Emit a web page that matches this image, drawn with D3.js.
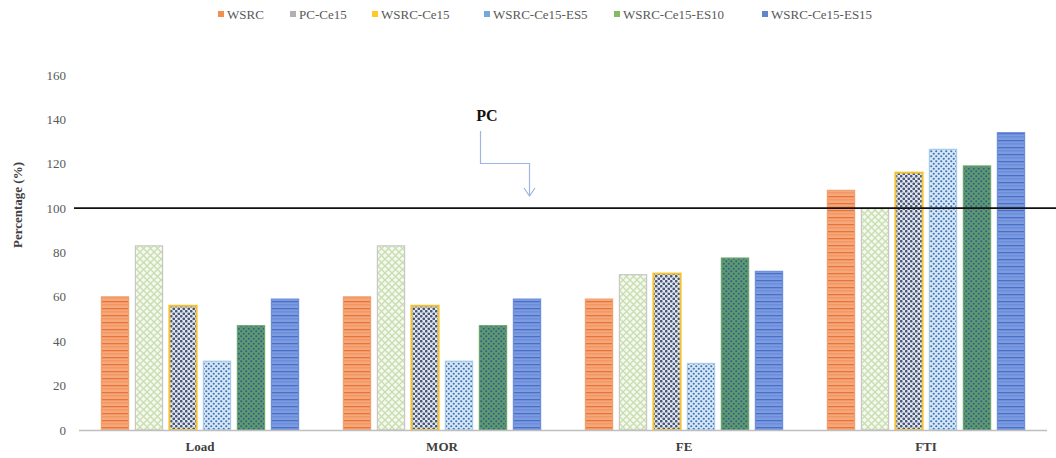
<!DOCTYPE html>
<html><head><meta charset="utf-8">
<script src="https://cdn.jsdelivr.net/npm/d3@7"></script>
<style>body{margin:0;background:#fff}svg{display:block}</style>
</head><body>
<svg id="c" width="1056" height="458"></svg>
<script>
const categories = ["Load","MOR","FE","FTI"];
const seriesNames = ["WSRC","PC-Ce15","WSRC-Ce15","WSRC-Ce15-ES5","WSRC-Ce15-ES10","WSRC-Ce15-ES15"];
const WSRC = [60, 60, 59, 108];
const PC_Ce15 = [83, 83, 70, 100];
const WSRC_Ce15 = [56, 56, 70.5, 116];
const WSRC_Ce15_ES5 = [31, 31, 30, 126.5];
const WSRC_Ce15_ES10 = [47, 47, 77.5, 119];
const WSRC_Ce15_ES15 = [59, 59, 71.5, 134];
const yTicks = [0,20,40,60,80,100,120,140,160];
const refValue = 100;
const seriesValues = [WSRC, PC_Ce15, WSRC_Ce15, WSRC_Ce15_ES5, WSRC_Ce15_ES10, WSRC_Ce15_ES15];

const svg = d3.select("#c");
const defs = svg.append("defs");
const font = "'Liberation Serif','Times New Roman',serif";

function stripes(id, bg, line) {
  const p = defs.append("pattern").attr("id", id).attr("patternUnits","userSpaceOnUse").attr("width",8).attr("height",7);
  p.append("rect").attr("width",8).attr("height",7).attr("fill",bg);
  p.append("rect").attr("y",0).attr("width",8).attr("height",1.3).attr("fill",line);
  p.append("rect").attr("y",3.5).attr("width",8).attr("height",0.8).attr("fill",line).attr("opacity",0.6);
}
stripes("p0", "#F7A87A", "#E8743A");
stripes("p5", "#7C9BE0", "#4A6FC8");
{
  const p = defs.append("pattern").attr("id","p1").attr("patternUnits","userSpaceOnUse").attr("width",7).attr("height",7);
  p.append("rect").attr("width",7).attr("height",7).attr("fill","#F4F9EE");
  p.append("path").attr("d","M0,0L7,7M7,0L0,7").attr("stroke","#C9DDB0").attr("stroke-width",1.3);
}
function dots(id, bg, dot, r) {
  const p = defs.append("pattern").attr("id",id).attr("patternUnits","userSpaceOnUse").attr("width",5).attr("height",5);
  p.append("rect").attr("width",5).attr("height",5).attr("fill",bg);
  p.append("circle").attr("cx",1.25).attr("cy",1.25).attr("r",r).attr("fill",dot);
  p.append("circle").attr("cx",3.75).attr("cy",3.75).attr("r",r).attr("fill",dot);
}
dots("p2", "#E4E8EE", "#46577A", 1.35);
dots("p3", "#D6E7F7", "#3F74B4", 1.1);
dots("p4", "#5E9A6E", "#2F5F8C", 1.05);

const strokes = ["#F0A070","#C8C8C8","#F2C233","#A8CBEA","#6EA46E","#6D8FDA"];
const legendColors = ["#ED7D31","#A5A5A5","#FFC000","#5B9BD5","#70AD47","#4472C4"];

const x0 = d3.scaleBand().domain(categories).range([79, 1047]).paddingInner(0).paddingOuter(0);
const x1 = d3.scaleBand().domain(seriesNames).range([x0.bandwidth()/2 - 102, x0.bandwidth()/2 + 102]).paddingInner(0.2).paddingOuter(0.1);
const y = d3.scaleLinear().domain([0,160]).range([430, 75]);

svg.append("g").selectAll("text").data(yTicks).join("text")
  .attr("x", 66).attr("y", d => y(d) + 4.5).attr("text-anchor","end")
  .attr("font-family", font).attr("font-size", 13).attr("fill","#595959").text(d => d);

svg.append("text").attr("transform","translate(22,205) rotate(-90)")
  .attr("text-anchor","middle").attr("font-family",font).attr("font-size",13).attr("font-weight","bold")
  .attr("fill","#404040").text("Percentage (%)");

const g = svg.append("g");
seriesNames.forEach((s, si) => {
  g.append("g").selectAll("rect").data(seriesValues[si]).join("rect")
    .attr("x", (d,i) => x0(categories[i]) + x1(s))
    .attr("y", d => y(d))
    .attr("width", x1.bandwidth())
    .attr("height", d => y(0) - y(d))
    .attr("fill", `url(#p${si})`)
    .attr("stroke", strokes[si]).attr("stroke-width", si===2 ? 2 : 1.2);
});

svg.append("line").attr("x1",79).attr("x2",1047).attr("y1",y(0)+0.5).attr("y2",y(0)+0.5)
  .attr("stroke","#BFBFBF").attr("stroke-width",1.3);

svg.append("line").attr("x1",74).attr("x2",1056).attr("y1",y(refValue)).attr("y2",y(refValue))
  .attr("stroke","#111").attr("stroke-width",1.6);

svg.append("g").selectAll("text").data(categories).join("text")
  .attr("x", d => x0(d) + x0.bandwidth()/2).attr("y", 451).attr("text-anchor","middle")
  .attr("font-family",font).attr("font-size",13).attr("font-weight","bold").attr("fill","#404040").text(d => d);

svg.append("text").attr("x",487).attr("y",121).attr("text-anchor","middle")
  .attr("font-family",font).attr("font-size",16).attr("font-weight","bold").attr("fill","#111").text("PC");
svg.append("path").attr("d","M480.5,131V163.5H529.5V196").attr("fill","none").attr("stroke","#9EB6E2").attr("stroke-width",1.2);
svg.append("path").attr("d","M524,188L529.5,196L535,188").attr("fill","none").attr("stroke","#9EB6E2").attr("stroke-width",1.2);

const legendX = [218, 290, 372, 484, 614, 762];
const lg = svg.append("g");
seriesNames.forEach((s, i) => {
  lg.append("rect").attr("x", legendX[i]).attr("y", 11).attr("width",6).attr("height",6).attr("fill", legendColors[i]).attr("opacity",0.85);
  lg.append("text").attr("x", legendX[i] + 9).attr("y", 19).attr("font-family",font).attr("font-size",13)
    .attr("fill","#595959").text(s);
});
</script>
</body></html>
